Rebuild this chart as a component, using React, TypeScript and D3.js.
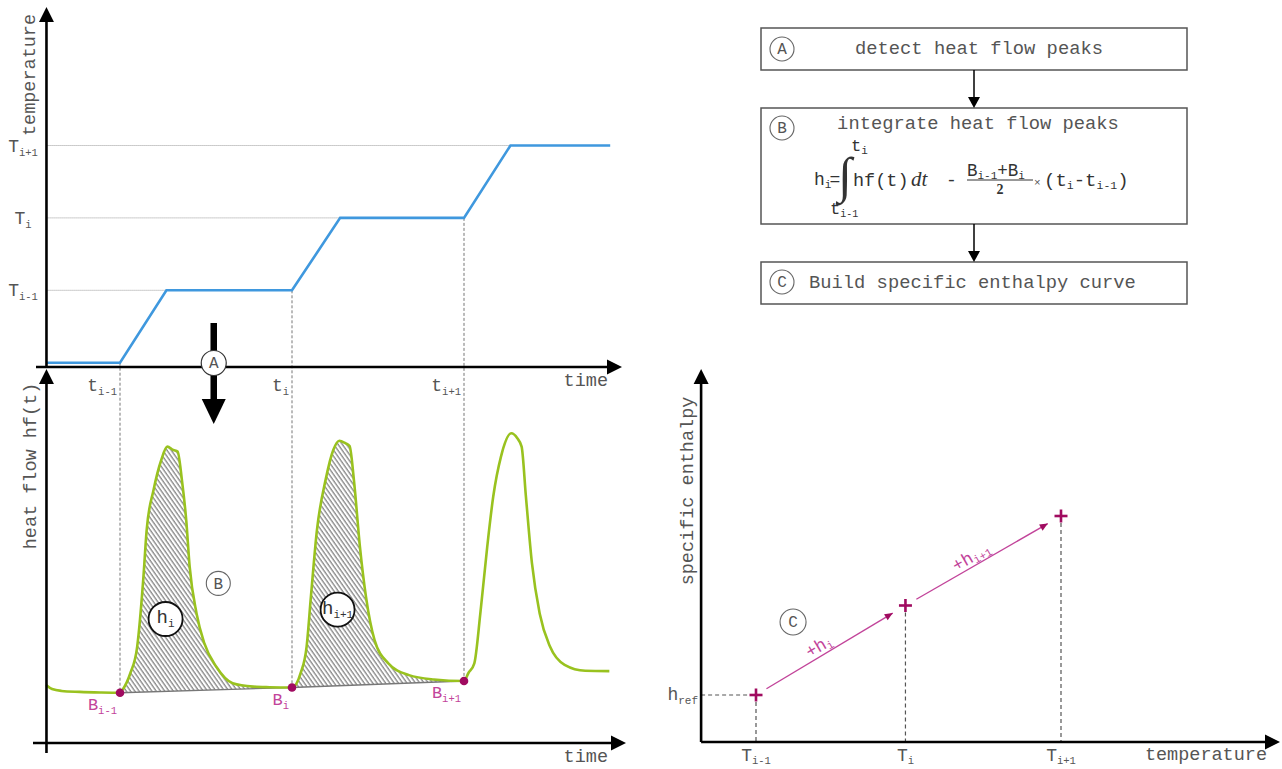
import React from 'react';
import * as d3 from 'd3';

const FONT = "'Liberation Mono', 'Courier New', monospace";
const SERIF = "'Liberation Serif', 'DejaVu Serif', serif";
const TXT = '#555';
const MAG_DARK = '#a00b60';
const MAG = '#c2449a';
const GREEN = '#99c21f';
const BLUE = '#3f98de';

// ---------- data: temperature programme (top chart) ----------
const timeMarks = [10, 30, 50];               // t_{i-1}, t_i, t_{i+1}
const timeSubs = ['i-1', 'i', 'i+1'];
const tempLevels = [1, 2, 3];                 // T_{i-1}, T_i, T_{i+1}
const tempSubs = ['i-1', 'i', 'i+1'];
const tempReachTime = [15.4, 35.6, 55.4];
const tempProfileTime = [1.5, 10, 15.4, 30, 35.6, 50, 55.4, 67];
const tempProfileValue = [0, 0, 1, 1, 2, 2, 3, 3];

// ---------- data: heat flow (bottom chart) ----------
const hfTime = [1.4, 2.1, 3.2, 5.3, 7.7, 10,
  10.3, 11.2, 12.0, 12.7, 13.1, 13.9, 14.8, 15.5, 16.2, 16.7, 17.2, 17.7, 18.1, 18.9, 19.8, 21.2, 23.1, 25.5, 27.4, 30,
  31.0, 31.7, 32.2, 32.9, 33.9, 34.8, 35.5, 36.2, 36.7, 37.2, 37.9, 38.6, 39.6, 41.2, 43.6, 46.5, 50,
  50.5, 51.2, 51.9, 52.7, 53.4, 54.3, 55.5, 56.2, 56.7, 57.2, 57.9, 58.8, 60.0, 61.7, 64.1, 66.9];
const hfValue = [1.87, 1.74, 1.68, 1.65, 1.63, 1.62,
  1.72, 2.25, 3.11, 5.26, 6.87, 8.16, 9.13, 9.56, 9.45, 9.40, 8.48, 7.19, 5.69, 4.18, 3.22, 2.46, 1.93, 1.82, 1.80, 1.79,
  2.25, 3.11, 4.72, 6.87, 8.48, 9.45, 9.75, 9.67, 9.58, 8.48, 6.33, 4.72, 3.32, 2.57, 2.19, 2.05, 2.0,
  2.25, 2.57, 4.18, 6.33, 7.95, 9.24, 9.99, 9.83, 9.56, 7.95, 5.80, 4.18, 3.11, 2.52, 2.33, 2.32];
const baselineTime = [10, 30, 50];
const baselineValue = [1.62, 1.79, 2.0];
const baselineSubs = ['i-1', 'i', 'i+1'];
const peakLabelTime = [15.3, 35.3];
const peakLabelValue = [4.0, 4.3];
const peakLabelSubs = ['i', 'i+1'];

// ---------- data: specific enthalpy (right chart) ----------
const enthalpyTemp = [1, 1.98, 3];
const enthalpyValue = [1, 2, 3];
const enthalpyTempSubs = ['i-1', 'i', 'i+1'];
const increSubs = ['i', 'i+1'];

// ---------- scales ----------
const xTime = d3.scaleLinear().domain([10, 50]).range([120, 464]);
const yTemp = d3.scaleLinear().domain([0, 3]).range([362.7, 145.5]);
const yHF = d3.scaleLinear().domain([0, 10]).range([743, 433]);
const xT = d3.scaleLinear().domain([1, 3]).range([756, 1061]);
const yH = d3.scaleLinear().domain([1, 3]).range([695, 516]);

function arrowHead(x1: number, y1: number, x2: number, y2: number, len: number, half: number) {
  const a = Math.atan2(y2 - y1, x2 - x1);
  const bx = x2 - len * Math.cos(a), by = y2 - len * Math.sin(a);
  const px = -Math.sin(a) * half, py = Math.cos(a) * half;
  return `M${x2},${y2}L${bx + px},${by + py}L${bx - px},${by - py}Z`;
}

function Axis({ x1, y1, x2, y2, len = 15, half = 7.5, w = 2.6 }: any) {
  const a = Math.atan2(y2 - y1, x2 - x1);
  return (
    <g>
      <line x1={x1} y1={y1} x2={x2 - (len - 2) * Math.cos(a)} y2={y2 - (len - 2) * Math.sin(a)} stroke="#000" strokeWidth={w} />
      <path d={arrowHead(x1, y1, x2, y2, len, half)} fill="#000" />
    </g>
  );
}

function SubText({ x, y, base, sub, size = 18, subSize = 11, anchor = 'start', fill = TXT, dy = 4, transform, family = FONT }: any) {
  return (
    <text x={x} y={y} fontSize={size} textAnchor={anchor} fill={fill} fontFamily={family} transform={transform}>
      {base}<tspan fontSize={subSize} dy={dy}>{sub}</tspan>
    </text>
  );
}

function CircleLabel({ cx, cy, r, label, stroke = '#666', sw = 1.1, size = 16 }: any) {
  return (
    <g>
      <circle cx={cx} cy={cy} r={r} fill="#fff" stroke={stroke} strokeWidth={sw} />
      <text x={cx} y={cy + size * 0.33} textAnchor="middle" fontSize={size} fill="#555" fontFamily={FONT}>{label}</text>
    </g>
  );
}

export default function App() {
  const interp = (xs: number[], ys: number[], v: number) => {
    const i = Math.max(1, Math.min(xs.length - 1, d3.bisectLeft(xs, v)));
    const t = (v - xs[i - 1]) / (xs[i] - xs[i - 1]);
    return ys[i - 1] + t * (ys[i] - ys[i - 1]);
  };

  const tempLine = d3.line<number>().x((_, i) => xTime(tempProfileTime[i])).y((d) => yTemp(d));
  const hfPts = hfTime.map((t, i) => ({ t, v: hfValue[i] }));
  const hfLine = d3.line<any>().x((d) => xTime(d.t)).y((d) => yHF(d.v)).curve(d3.curveMonotoneX);
  const areaPts = hfPts.filter((d) => d.t >= baselineTime[0] && d.t <= baselineTime[2]);
  const hatchArea = d3.area<any>()
    .x((d) => xTime(d.t))
    .y0((d) => yHF(interp(baselineTime, baselineValue, d.t)))
    .y1((d) => yHF(d.v))
    .curve(d3.curveMonotoneX);
  const baseLine = d3.line<number>().x((_, i) => xTime(baselineTime[i])).y((d) => yHF(d));

  // axes extents (in data units)
  const tAxisX = xTime(1.45);
  const topAxisY = yTemp(-0.06);
  const botAxisY = yHF(0);
  const rAxisX = xT(0.64);
  const rAxisY = yH(0.475);

  const aX = xTime(20.9);

  // enthalpy arrows
  const ePts = enthalpyTemp.map((T, i) => [xT(T), yH(enthalpyValue[i])]);
  const eArrows = [0, 1].map((k) => {
    const [x0, y0] = ePts[k];
    const [x1, y1] = ePts[k + 1];
    const s = 0.07, e = 0.915;
    return { x1: x0 + s * (x1 - x0), y1: y0 + s * (y1 - y0), x2: x0 + e * (x1 - x0), y2: y0 + e * (y1 - y0) };
  });

  const boxL = 761, boxR = 1187, boxMid = 974;

  return (
    <svg width={1282} height={769} style={{ position: 'absolute', left: 0, top: 0, background: '#fff' }}>
      <defs>
        <pattern id="hatch" patternUnits="userSpaceOnUse" width={3.5} height={10} patternTransform="rotate(-35)">
          <rect width={3.5} height={10} fill="#fff" />
          <line x1={1} y1={0} x2={1} y2={10} stroke="#4d4d4d" strokeWidth={0.9} />
        </pattern>
      </defs>

      {/* ================= TOP CHART ================= */}
      {tempLevels.map((T, i) => (
        <line key={'tl' + i} x1={tAxisX} x2={xTime(tempReachTime[i])} y1={yTemp(T)} y2={yTemp(T)}
          stroke="#9a9a9a" strokeWidth={1} strokeDasharray="1,1" />
      ))}
      {tempLevels.map((T, i) => (
        <SubText key={'tlab' + i} x={23} y={yTemp(T) + 6} base="T" sub={tempSubs[i]} anchor="middle" size={18} subSize={10.5} />
      ))}
      {/* vertical dashed lines */}
      {timeMarks.map((t, i) => (
        <line key={'vd' + i} x1={xTime(t)} x2={xTime(t)} y1={yTemp(interp(tempProfileTime, tempProfileValue, t))}
          y2={yHF(baselineValue[i])} stroke="#777" strokeWidth={1} strokeDasharray="3,2" />
      ))}
      <path d={tempLine(tempProfileValue) || ''} fill="none" stroke={BLUE} strokeWidth={2.6} strokeLinejoin="miter" />

      <Axis x1={36} y1={topAxisY} x2={622} y2={topAxisY} />
      <Axis x1={tAxisX} y1={yTemp(-0.07)} x2={tAxisX} y2={7} />
      <text x={608} y={386} textAnchor="end" fontSize={18.5} fill={TXT} fontFamily={FONT}>time</text>
      <text transform={`translate(35,75) rotate(-90)`} textAnchor="middle" fontSize={18.5} fill={TXT} fontFamily={FONT}>temperature</text>
      {timeMarks.map((t, i) => (
        <SubText key={'tm' + i} x={xTime(t) - 3} y={391} base="t" sub={timeSubs[i]} anchor="end" size={18} subSize={10.5} />
      ))}

      {/* ================= BOTTOM CHART ================= */}
      <path d={hatchArea(areaPts) || ''} fill="url(#hatch)" stroke="none" />
      <path d={baseLine(baselineValue) || ''} fill="none" stroke="#777" strokeWidth={1.4} />
      <path d={hfLine(hfPts) || ''} fill="none" stroke={GREEN} strokeWidth={2.6} />
      {baselineValue.map((v, i) => (
        <circle key={'bd' + i} cx={xTime(baselineTime[i])} cy={yHF(v)} r={4.3} fill={MAG_DARK} />
      ))}
      {baselineValue.map((v, i) => (
        <SubText key={'bl' + i} x={xTime(baselineTime[i]) - 3} y={yHF(v) + 17} base="B" sub={baselineSubs[i]}
          anchor="end" size={17} subSize={10.5} fill={MAG} />
      ))}
      {peakLabelTime.map((t, i) => (
        <g key={'pl' + i}>
          <circle cx={xTime(t)} cy={yHF(peakLabelValue[i])} r={17} fill="#fff" stroke="#111" strokeWidth={1.8} />
          <SubText x={xTime(t)} y={yHF(peakLabelValue[i]) + 4} base="h" sub={peakLabelSubs[i]} anchor="middle"
            size={19} subSize={11} fill="#333" dy={4} />
        </g>
      ))}
      <CircleLabel cx={xTime(21.43)} cy={yHF(5.15)} r={12} label="B" />

      <Axis x1={33} y1={botAxisY} x2={626} y2={botAxisY} />
      <Axis x1={tAxisX} y1={753} x2={tAxisX} y2={369} />
      <text x={608} y={762} textAnchor="end" fontSize={18.5} fill={TXT} fontFamily={FONT}>time</text>
      <text transform={`translate(36,466) rotate(-90)`} textAnchor="middle" fontSize={18.5} fill={TXT} fontFamily={FONT}>heat flow hf(t)</text>

      {/* A marker */}
      <line x1={aX} x2={aX} y1={323} y2={402} stroke="#000" strokeWidth={6.5} />
      <path d={arrowHead(aX, 380, aX, 424, 25, 12)} fill="#000" />
      <CircleLabel cx={aX} cy={363} r={12.5} label="A" stroke="#333" sw={1.2} />

      {/* ================= FLOWCHART ================= */}
      <rect x={boxL} y={28} width={boxR - boxL} height={42} fill="#fff" stroke="#555" strokeWidth={1.5} />
      <rect x={boxL} y={108} width={boxR - boxL} height={116} fill="#fff" stroke="#555" strokeWidth={1.5} />
      <rect x={boxL} y={262} width={boxR - boxL} height={42} fill="#fff" stroke="#555" strokeWidth={1.5} />
      <line x1={boxMid} x2={boxMid} y1={70} y2={98} stroke="#000" strokeWidth={1.5} />
      <path d={arrowHead(boxMid, 70, boxMid, 108, 11, 6)} fill="#000" />
      <line x1={boxMid} x2={boxMid} y1={224} y2={252} stroke="#000" strokeWidth={1.5} />
      <path d={arrowHead(boxMid, 224, boxMid, 262, 11, 6)} fill="#000" />

      <CircleLabel cx={782} cy={49} r={12} label="A" />
      <text x={979} y={54} textAnchor="middle" fontSize={18.8} fill={TXT} fontFamily={FONT}>detect heat flow peaks</text>
      <CircleLabel cx={782} cy={128} r={12} label="B" />
      <text x={978} y={129} textAnchor="middle" fontSize={18.8} fill={TXT} fontFamily={FONT}>integrate heat flow peaks</text>
      <CircleLabel cx={782} cy={282} r={12} label="C" />
      <text x={809} y={288} fontSize={18.8} fill={TXT} fontFamily={FONT}>Build specific enthalpy curve</text>

      {/* formula */}
      <text x={814} y={185} fontSize={18} fill="#333" fontFamily={FONT}>
        h<tspan fontSize={11} dy={3}>i</tspan><tspan dy={-3} dx={-2}>=</tspan>
      </text>
      <text x={838} y={192} fontSize={50} fill="#333" fontFamily={SERIF}>∫</text>
      <SubText x={851} y={151} base="t" sub="i" size={17} subSize={11} fill="#333" dy={3} />
      <SubText x={830} y={214} base="t" sub="i-1" size={17} subSize={10} fill="#333" dy={3} />
      <text x={853} y={186} fontSize={18.5} fill="#333" fontFamily={FONT}>hf(t)</text>
      <text x={911} y={186} fontSize={21} fill="#333" fontFamily={SERIF} fontStyle="italic">dt</text>
      <text x={946} y={186} fontSize={18} fill="#333" fontFamily={FONT}>-</text>
      <text x={967} y={176} fontSize={17.5} fill="#333" fontFamily={FONT}>
        B<tspan fontSize={11} dy={3}>i-1</tspan><tspan dy={-3}>+B</tspan><tspan fontSize={11} dy={3}>i</tspan>
      </text>
      <line x1={967} x2={1033} y1={180} y2={180} stroke="#333" strokeWidth={1} />
      <text x={1000} y={194} textAnchor="middle" fontSize={14} fontWeight="bold" fill="#333" fontFamily={SERIF}>2</text>
      <text x={1034} y={186} fontSize={11} fill="#555" fontFamily={FONT}>×</text>
      <text x={1044} y={186} fontSize={19} fill="#333" fontFamily={FONT}>
        (t<tspan fontSize={11.5} dy={3}>i</tspan><tspan dy={-3}>-t</tspan><tspan fontSize={11.5} dy={3}>i-1</tspan><tspan dy={-3}>)</tspan>
      </text>

      {/* ================= RIGHT CHART ================= */}
      {ePts.map(([x, y], i) => (
        <line key={'ev' + i} x1={x} x2={x} y1={y} y2={rAxisY} stroke="#555" strokeWidth={1.2} strokeDasharray="4,3" />
      ))}
      <line x1={rAxisX} x2={ePts[0][0]} y1={ePts[0][1]} y2={ePts[0][1]} stroke="#555" strokeWidth={1.2} strokeDasharray="4,3" />
      {eArrows.map((a, i) => (
        <g key={'ea' + i}>
          <line x1={a.x1} y1={a.y1} x2={a.x2} y2={a.y2} stroke={MAG} strokeWidth={1.4} />
          <path d={arrowHead(a.x1, a.y1, a.x2, a.y2, 8, 3.5)} fill={MAG_DARK} />
        </g>
      ))}
      {eArrows.map((a, i) => {
        const mx = (a.x1 + a.x2) / 2 - 6, my = (a.y1 + a.y2) / 2 + 3.5;
        const ang = Math.atan2(a.y2 - a.y1, a.x2 - a.x1);
        const off = 4;
        const lx = mx + Math.sin(ang) * off, ly = my - Math.cos(ang) * off;
        return (
          <SubText key={'el' + i} x={lx} y={ly} base="+h" sub={increSubs[i]} anchor="middle" size={17.5} subSize={11}
            fill={MAG} dy={3} transform={`rotate(${(ang * 180) / Math.PI},${lx},${ly})`} />
        );
      })}
      {ePts.map(([x, y], i) => (
        <g key={'ec' + i} stroke={MAG_DARK} strokeWidth={2.6}>
          <line x1={x - 6.5} x2={x + 6.5} y1={y} y2={y} />
          <line x1={x} x2={x} y1={y - 6.5} y2={y + 6.5} />
        </g>
      ))}
      <CircleLabel cx={xT(1.243)} cy={yH(1.816)} r={13} label="C" />

      <Axis x1={rAxisX} y1={rAxisY} x2={1280} y2={rAxisY} />
      <Axis x1={rAxisX} y1={rAxisY} x2={rAxisX} y2={369} />
      <SubText x={698} y={700} base="h" sub="ref" anchor="end" size={18} subSize={11} />
      {enthalpyTemp.map((T, i) => (
        <SubText key={'et' + i} x={xT(T)} y={761} base="T" sub={enthalpyTempSubs[i]} anchor="middle" size={18} subSize={10.5} dy={3} />
      ))}
      <text x={1267} y={760} textAnchor="end" fontSize={18.5} fill={TXT} fontFamily={FONT}>temperature</text>
      <text transform={`translate(693,491) rotate(-90)`} textAnchor="middle" fontSize={18.5} fill={TXT} fontFamily={FONT}>specific enthalpy</text>
    </svg>
  );
}
